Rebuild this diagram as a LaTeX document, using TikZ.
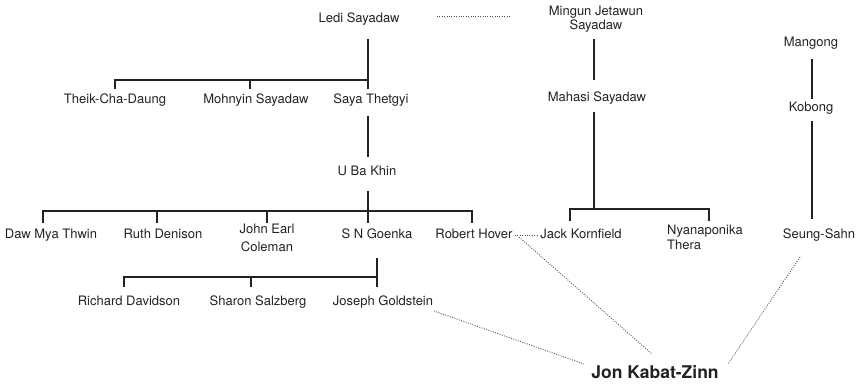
\documentclass[tikz,border=0pt]{standalone}
\usepackage{fontspec}
\setmainfont{TeX Gyre Heros}
\definecolor{ink}{HTML}{222222}
\begin{document}
\begin{tikzpicture}[x=1pt,y=-1pt,
  lbl/.style={font=\fontsize{13}{15}\selectfont, inner sep=0pt, anchor=base, text=ink},
  tree/.style={line width=2pt, draw=ink, line join=miter},
  dots/.style={line width=0.9pt, draw=ink!80, dash pattern=on 0.9pt off 1.5pt}]
\useasboundingbox (0,0) rectangle (861,385);
% nodes
\node[lbl] (ledi) at (359,23) {Ledi Sayadaw};
\node[lbl] (theik) at (115,104) {Theik-Cha-Daung};
\node[lbl] (mohnyin) at (256,104) {Mohnyin Sayadaw};
\node[lbl] (saya) at (371,104) {Saya Thetgyi};
\node[lbl] (uba) at (367,175) {U Ba Khin};
\node[lbl] (daw) at (51,238) {Daw Mya Thwin};
\node[lbl] (ruth) at (163,238) {Ruth Denison};
\node[lbl,align=center,font=\fontsize{13}{17.4}\selectfont] (john) at (267,251) {John Earl\\Coleman};
\node[lbl] (goenka) at (377,238) {S N Goenka};
\node[lbl] (hover) at (474,238) {Robert Hover};
\node[lbl] (richard) at (129,305) {Richard Davidson};
\node[lbl] (sharon) at (258,305) {Sharon Salzberg};
\node[lbl] (joseph) at (383,305) {Joseph Goldstein};
\node[lbl,align=center,font=\fontsize{13}{14}\selectfont] (mingun) at (596,30) {Mingun Jetawun\\Sayadaw};
\node[lbl] (mahasi) at (597,102) {Mahasi Sayadaw};
\node[lbl] (jack) at (581,238) {Jack Kornfield};
\node[lbl,align=left,font=\fontsize{13}{15}\selectfont] (nyana) at (705,249) {Nyanaponika\\Thera};
\node[lbl] (mangong) at (811,47) {Mangong};
\node[lbl] (kobong) at (811,111) {Kobong};
\node[lbl] (seung) at (819,238) {Seung-Sahn};
\node[font=\bfseries\fontsize{17.5}{20}\selectfont, inner sep=0pt, anchor=base, text=ink] (jon) at (655,378) {Jon Kabat-Zinn};
% connector coordinates
\coordinate (ledi-s) at (368,39);
\coordinate (theik-n) at (115,89);
\coordinate (mohnyin-n) at (250,89);
\coordinate (saya-n) at (368,89);
\coordinate (saya-s) at (368,116);
\coordinate (uba-n) at (368,157);
\coordinate (uba-s) at (368,191);
\coordinate (daw-n) at (43,223);
\coordinate (ruth-n) at (157,223);
\coordinate (john-n) at (267,223);
\coordinate (goenka-n) at (368,223);
\coordinate (hover-n) at (472,223);
\coordinate (goenka-s) at (377,258);
\coordinate (richard-n) at (124,287);
\coordinate (sharon-n) at (251,287);
\coordinate (joseph-n) at (377,287);
\coordinate (mingun-s) at (594,39);
\coordinate (mahasi-n) at (594,80);
\coordinate (mahasi-s) at (594,112);
\coordinate (jack-n) at (570,221);
\coordinate (nyana-n) at (709,221);
\coordinate (mangong-s) at (812,59);
\coordinate (kobong-n) at (812,99);
\coordinate (kobong-s) at (812,121);
\coordinate (seung-n) at (812,219);
% solid tree
\draw[tree] (ledi-s) -- (saya-n);
\draw[tree] (theik-n) -- ++(0,-9) -| (saya-n);
\draw[tree] (mohnyin-n) -- ++(0,-9);
\draw[tree] (saya-s) -- (uba-n);
\draw[tree] (uba-s) -- (goenka-n);
\draw[tree] (daw-n) -- ++(0,-12) -| (hover-n);
\draw[tree] (ruth-n) -- ++(0,-12);
\draw[tree] (john-n) -- ++(0,-12);
\draw[tree] (goenka-s) -- (joseph-n);
\draw[tree] (richard-n) -- ++(0,-10) -| (joseph-n);
\draw[tree] (sharon-n) -- ++(0,-10);
\draw[tree] (mingun-s) -- (mahasi-n);
\draw[tree] (mahasi-s) -- ++(0,97);
\draw[tree] (jack-n) -- ++(0,-12) -| (nyana-n);
\draw[tree] (mangong-s) -- (kobong-n);
\draw[tree] (kobong-s) -- (seung-n);
% dotted links
\coordinate (ledi-e) at (437,16);
\coordinate (mingun-w) at (510,16);
\coordinate (hover-e) at (515,235);
\coordinate (jack-w) at (538,235);
\coordinate (hover-se) at (519,237);
\coordinate (jon-nw) at (652,354);
\coordinate (seung-sw) at (800,257);
\coordinate (jon-ne) at (728,364);
\coordinate (joseph-e) at (434,311);
\coordinate (jon-w) at (584,364);
\draw[dots] (ledi-e) -- (mingun-w);
\draw[dots] (hover-e) -- (jack-w);
\draw[dots] (hover-se) -- (jon-nw);
\draw[dots] (seung-sw) -- (jon-ne);
\draw[dots] (joseph-e) -- (jon-w);
\end{tikzpicture}
\end{document}
